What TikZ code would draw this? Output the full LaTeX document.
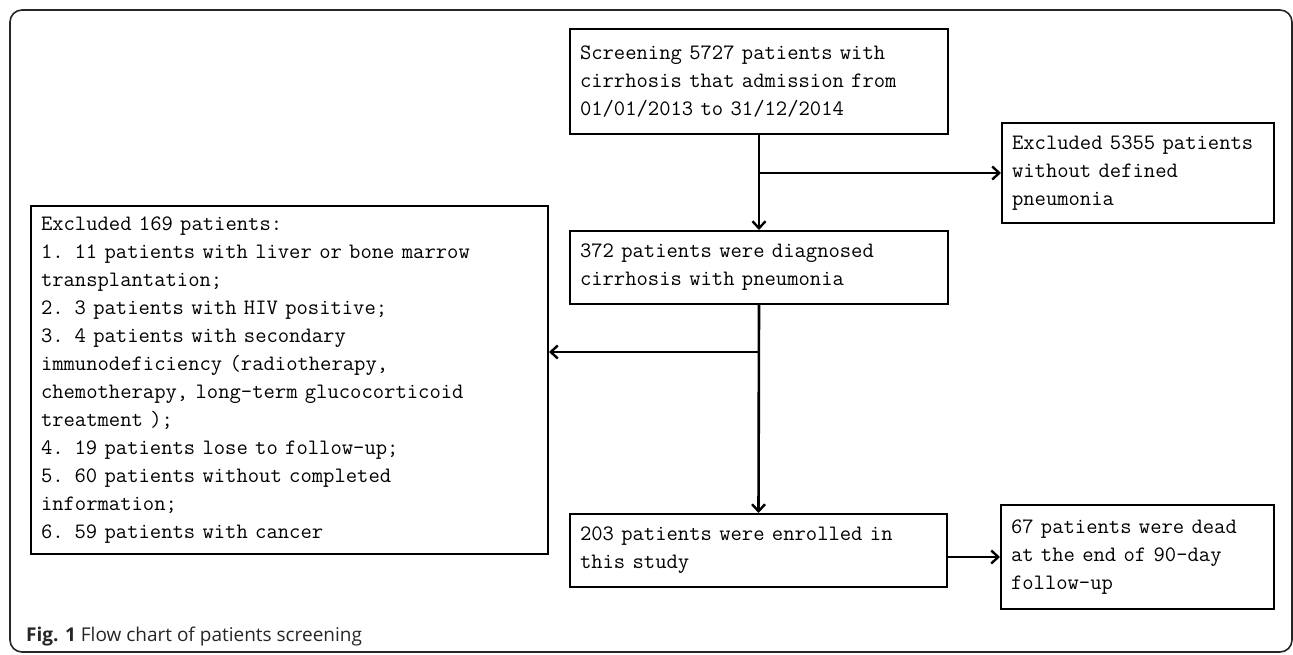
\documentclass[tikz,border=0pt]{standalone}
\usepackage{fontspec}
\newfontfamily\capfont{Open Sans}
\usetikzlibrary{arrows.meta}
\tikzset{
  flowbox/.style={draw=black, line width=2pt, anchor=north west, align=left,
    inner xsep=10pt, inner ysep=0pt,
    font=\fontsize{22}{28}\selectfont\ttfamily},
  flowarrow/.style={line width=2.6pt, -{Straight Barb[length=7pt,width=13pt,line width=2.4pt]}},
  frame/.style={draw=black!85, line width=1.6pt, rounded corners=12pt}
}
\begin{document}
\begin{tikzpicture}[x=1pt,y=-1pt]
\useasboundingbox (0,0) rectangle (1293,655);
\draw[frame] (10,10) rectangle (1292,652);

\node[flowbox, text width=358pt, minimum height=105pt] (A) at (569,28)
  {Screening 5727 patients with\\cirrhosis that admission from\\01/01/2013 to 31/12/2014};
\node[flowbox, text width=252pt, minimum height=100pt] (B) at (1001,122)
  {Excluded 5355 patients\\without defined\\pneumonia};
\node[flowbox, text width=358pt, minimum height=73pt] (C) at (569,230)
  {372 patients were diagnosed\\cirrhosis with pneumonia};
\node[flowbox, text width=497pt, minimum height=348pt] (D) at (30,205)
  {Excluded 169 patients:\\
   1. 11 patients with liver or bone marrow\\
   transplantation;\\
   2. 3 patients with HIV positive;\\
   3. 4 patients with secondary\\
   immunodeficiency (radiotherapy,\\
   chemotherapy, long-term glucocorticoid\\
   treatment );\\
   4. 19 patients lose to follow-up;\\
   5. 60 patients without completed\\
   information;\\
   6. 59 patients with cancer};
\node[flowbox, text width=357pt, minimum height=73pt] (E) at (569,513)
  {203 patients were enrolled in\\this study};
\node[flowbox, text width=253pt, minimum height=104pt] (F) at (1000,504)
  {67 patients were dead\\at the end of 90-day\\follow-up};

\coordinate (j1) at (A.south |- B.west);
\coordinate (j2) at (758,352);

\draw[flowarrow] (A.south) -- (C.north);
\draw[flowarrow] (j1) -- (B.west);
\draw[flowarrow] (C.south) -- (E.north);
\draw[flowarrow] (j2) -- (j2 -| D.east);
\draw[flowarrow] (E.east |- F.west) -- (F.west);

\node[anchor=west, inner sep=0pt, font=\capfont\fontsize{19}{21}\selectfont, text=black!85] (cap) at (26,637)
  {\textbf{Fig. 1} Flow chart of patients screening};
\end{tikzpicture}
\end{document}
